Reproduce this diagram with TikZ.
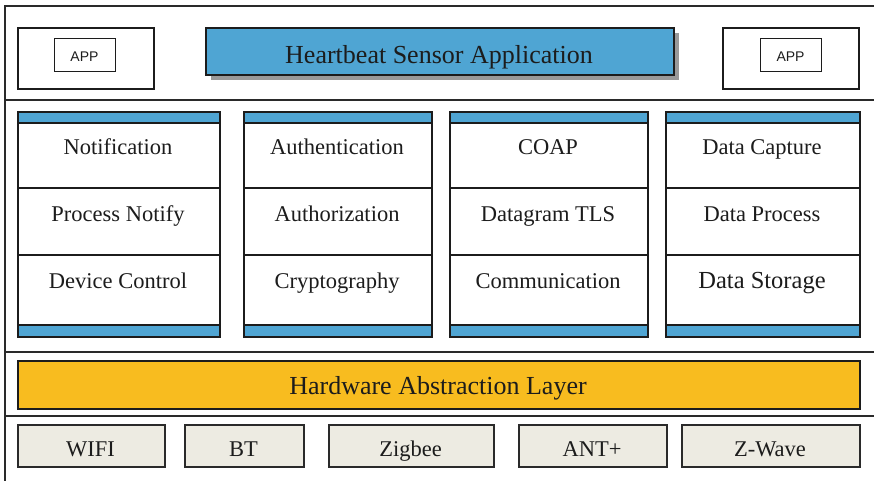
\documentclass[tikz,border=0pt]{standalone}
\usepackage{fontspec}
\setmainfont{Liberation Serif}
\newfontfamily\appfont{Liberation Sans}
\usetikzlibrary{shadows}
\definecolor{bandblue}{HTML}{4FA5D3}
\definecolor{halorange}{HTML}{F8BC1F}
\definecolor{radiobeige}{HTML}{EDEBE2}
\definecolor{framegray}{HTML}{2A2A2A}
\definecolor{inkblack}{HTML}{1C1C1C}
\begin{document}
\begin{tikzpicture}[x=1pt,y=-1pt,
  box/.style={draw=inkblack, line width=1.6pt, inner sep=0pt, anchor=north west},
  thinbox/.style={draw=inkblack, line width=0.9pt, inner sep=0pt, anchor=north west},
  sepline/.style={draw=framegray, line width=1.5pt},
  lbl/.style={anchor=base, inner sep=0pt, text=inkblack},
  big/.style={font=\fontsize{26}{28}\selectfont},
  mid/.style={font=\fontsize{22.5}{24}\selectfont},
  applbl/.style={anchor=base, inner sep=0pt, text=inkblack, font=\appfont\fontsize{14}{15}\selectfont}]
\useasboundingbox (0,0) rectangle (874,480);

% outer frame and layer separators
\coordinate (fbl) at (5,481);
\coordinate (ftl) at (5,6);
\coordinate (ftr) at (875,6);
\draw[sepline] (fbl) -- (ftl) -- (ftr);
\foreach \yy/\nm in {100/a,352/b,416/c}{
  \coordinate (s\nm l) at (5,\yy);
  \coordinate (s\nm r) at (875,\yy);
  \draw[sepline] (s\nm l) -- (s\nm r);
}

% application layer
\node[box, minimum width=136pt, minimum height=61pt] (appL) at (17,27) {};
\node[thinbox, minimum width=61pt, minimum height=33pt] (appLi) at (54,38) {};
\node[applbl] (appLt) at (84.5,61) {APP};
\node[box, minimum width=136pt, minimum height=61pt] (appR) at (722,27) {};
\node[thinbox, minimum width=61pt, minimum height=33pt] (appRi) at (760,38) {};
\node[applbl] (appRt) at (790.5,61) {APP};
\node[box, fill=bandblue, minimum width=468pt, minimum height=47pt,
      drop shadow={shadow xshift=5pt, shadow yshift=-5pt, fill=black!40, opacity=1}] (hsa) at (205,27) {};
\node[lbl, big] (hsat) at (439,63) {Heartbeat Sensor Application};

% service columns
\foreach \i/\xa/\xb/\ta/\tb/\tc/\fc in {
  1/17/219/Notification/Process Notify/Device Control/22.5,
  2/243/431/Authentication/Authorization/Cryptography/22.5,
  3/449/647/COAP/Datagram TLS/Communication/22.5,
  4/665/859/Data Capture/Data Process/Data Storage/24.5}{
  \pgfmathsetmacro\w{\xb-\xa}
  \pgfmathsetmacro\xc{(\xa+\xb)/2}
  \node[box, fill=bandblue, minimum width=\w pt, minimum height=11pt] (b\i t) at (\xa,111) {};
  \node[box, fill=white, minimum width=\w pt, minimum height=65pt] (c\i a) at (\xa,122) {};
  \node[box, fill=white, minimum width=\w pt, minimum height=67pt] (c\i b) at (\xa,187) {};
  \node[box, fill=white, minimum width=\w pt, minimum height=70pt] (c\i c) at (\xa,254) {};
  \node[box, fill=bandblue, minimum width=\w pt, minimum height=12pt] (b\i b) at (\xa,324) {};
  \node[lbl, mid] (l\i a) at (\xc,154) {\ta};
  \node[lbl, mid] (l\i b) at (\xc,221) {\tb};
  \node[lbl, font=\fontsize{\fc}{26}\selectfont] (l\i c) at (\xc,288) {\tc};
}

% hardware abstraction layer
\node[box, fill=halorange, minimum width=842pt, minimum height=48pt] (hal) at (17,360) {};
\node[lbl, big] (halt) at (438,394) {Hardware Abstraction Layer};

% radio interfaces
\foreach \j/\xa/\xb/\tx in {1/17/164/WIFI, 2/184/303/BT, 3/328/493/Zigbee, 4/518/666/ANT+, 5/681/859/Z-Wave}{
  \pgfmathsetmacro\w{\xb-\xa}
  \pgfmathsetmacro\xc{(\xa+\xb)/2}
  \node[box, fill=radiobeige, draw=framegray, line width=1.9pt, minimum width=\w pt, minimum height=42pt] (r\j) at (\xa,424) {};
  \node[lbl, mid] (r\j t) at (\xc,456) {\tx};
}
\end{tikzpicture}
\end{document}
